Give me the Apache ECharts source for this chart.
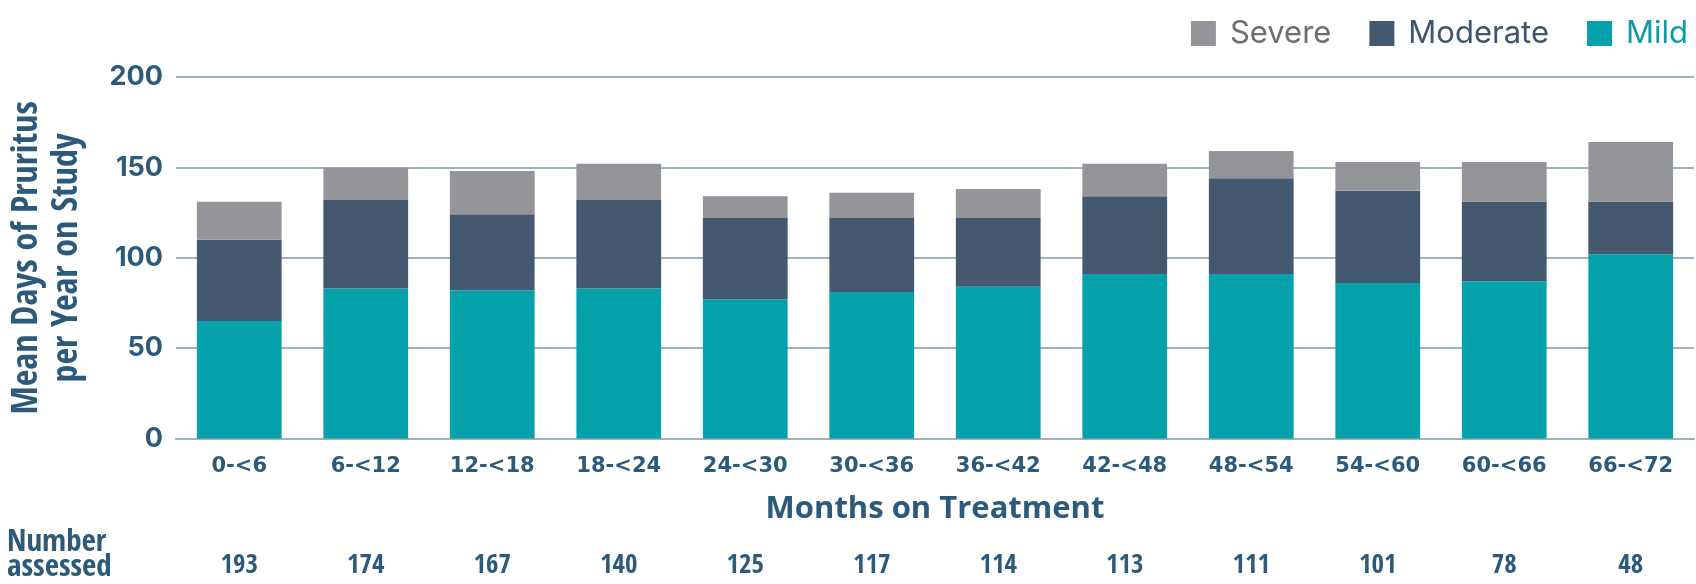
<!DOCTYPE html>
<html>
<head>
<meta charset="utf-8">
<script src="https://cdn.jsdelivr.net/npm/echarts@6/dist/echarts.min.js"></script>
<style>
html,body{margin:0;padding:0;background:#fff;}
#chart{width:1696px;height:584px;}
</style>
</head>
<body>
<div id="chart"></div>
<script>
const categories = ['0-<6','6-<12','12-<18','18-<24','24-<30','30-<36','36-<42','42-<48','48-<54','54-<60','60-<66','66-<72'];
const numberAssessed = [193,174,167,140,125,117,114,113,111,101,78,48];
const mild = [65,83,82,83,77,81,84,91,91,86,87,102];
const moderate = [45,49,42,49,45,41,38,43,53,51,44,29];
const severe = [21,18,24,20,12,14,16,18,15,16,22,33];
const yTicks = {min:0, max:200, interval:50};

const navy = '#2c5a7a';
const narrow = "'Liberation Sans Narrow','Open Sans Condensed','DejaVu Sans Condensed',sans-serif";
const chart = echarts.init(document.getElementById('chart'), null, {renderer:'canvas'});
chart.setOption({
  animation:false,
  backgroundColor:'#fff',
  grid:{left:171, right:2, top:77, bottom:145.5, containLabel:false},
  legend:{
    right:3, top:13, itemWidth:25, itemHeight:25, itemGap:38, icon:'rect',
    textStyle:{fontFamily:'Inter', fontSize:31, padding:[0,0,0,9]},
    data:[
      {name:'Severe', textStyle:{color:'#6d6e71'}},
      {name:'Moderate', textStyle:{color:'#3d5670'}},
      {name:'Mild', textStyle:{color:'#0b9ba4'}}
    ]
  },
  xAxis:[{
    type:'category', data:categories, position:'bottom',
    axisLine:{lineStyle:{color:'#9fb1bd', width:2}},
    axisTick:{show:false},
    axisLabel:{color:navy, fontFamily:"'DejaVu Sans'", fontWeight:'bold', fontSize:21, margin:18, interval:0},
    name:'Months on Treatment', nameLocation:'middle', nameGap:55,
    nameTextStyle:{color:navy, fontFamily:"'Open Sans'", fontWeight:'bold', fontSize:31}
  },{
    type:'category', data:numberAssessed.map(String), position:'bottom',
    axisLine:{show:false}, axisTick:{show:false}, splitLine:{show:false},
    axisLabel:{color:navy, fontFamily:narrow, fontWeight:'bold', fontSize:27, margin:114, interval:0}
  }],
  yAxis:{
    type:'value', min:yTicks.min, max:yTicks.max, interval:yTicks.interval,
    axisLine:{show:false}, axisTick:{show:false},
    splitLine:{lineStyle:{color:'#9fb1bd', width:2}},
    axisLabel:{color:navy, fontFamily:'Inter', fontWeight:'bold', fontSize:27, margin:13},
    name:'Mean Days of Pruritus\nper Year on Study', nameLocation:'middle', nameGap:88, nameRotate:90,
    nameTextStyle:{color:navy, fontFamily:narrow, fontWeight:'bold', fontSize:36, lineHeight:40}
  },
  graphic:[{
    type:'text', left:7, top:527,
    style:{text:'Number\nassessed', fill:navy, font:"bold 31px "+narrow, lineHeight:25}
  }],
  series:[
    {name:'Mild', type:'bar', stack:'t', data:mild, barWidth:'67%', itemStyle:{color:'#05a2ac'}},
    {name:'Moderate', type:'bar', stack:'t', data:moderate, itemStyle:{color:'#44586f'}},
    {name:'Severe', type:'bar', stack:'t', data:severe, itemStyle:{color:'#939598'}}
  ]
});
</script>
</body>
</html>
